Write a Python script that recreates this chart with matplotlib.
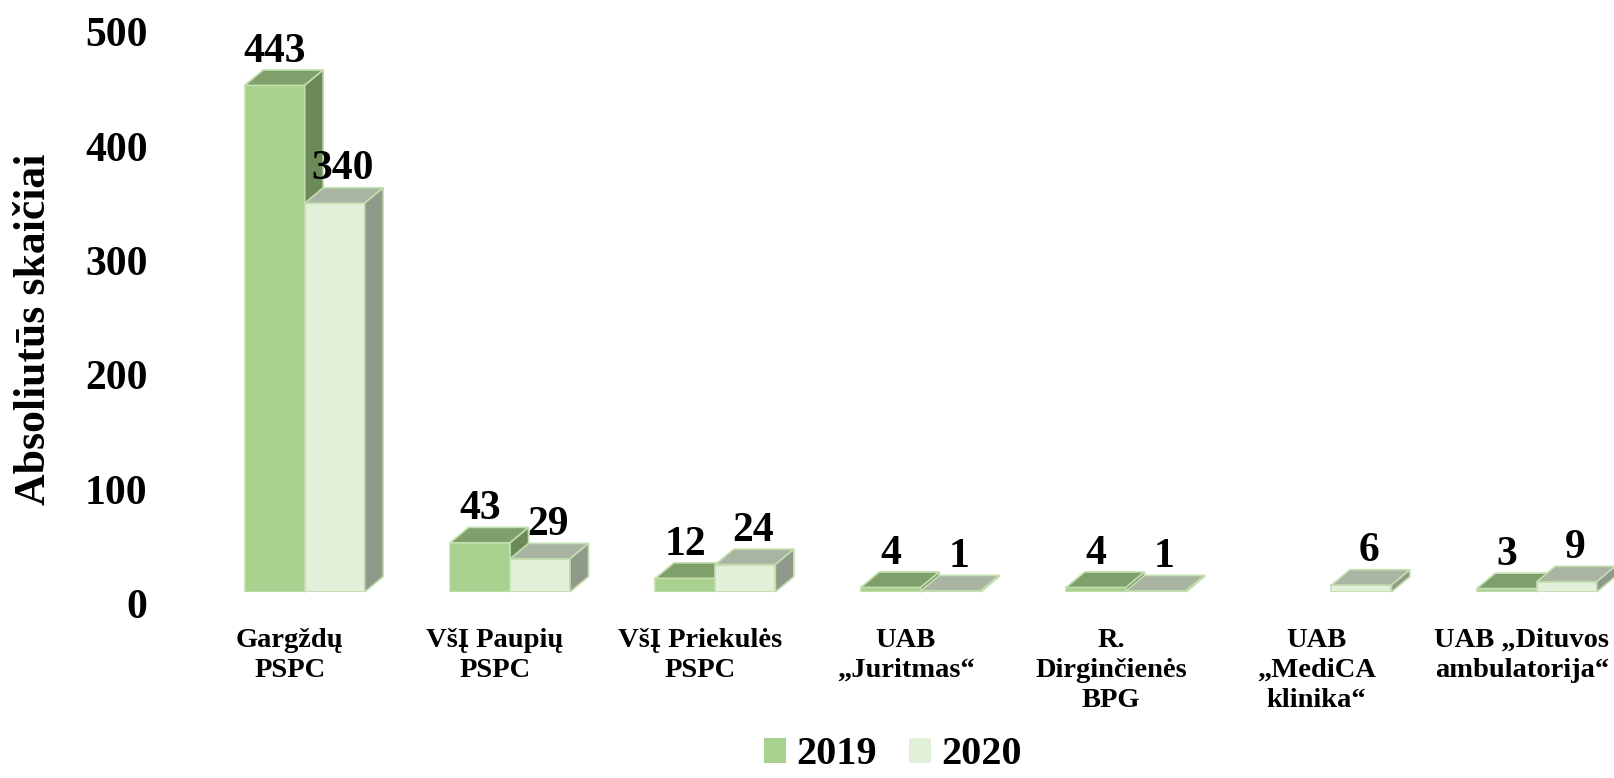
from matplotlib import pyplot as plt
from matplotlib.patches import Polygon, Patch
from matplotlib.transforms import ScaledTranslation

import numpy as np

# ==================================================================================
# DATA
# ==================================================================================
categories  = ['Gargždų\nPSPC', 'VšĮ Paupių\nPSPC', 'VšĮ Priekulės\nPSPC', 'UAB\n„Juritmas“',
               'R.\nDirginčienės\nBPG', 'UAB\n„MediCA\nklinika“', 'UAB „Dituvos\nambulatorija“']
years       = ['2019', '2020']
values_2019 = [443, 43, 12, 4, 4, np.nan, 3]
values_2020 = [340, 29, 24, 1, 1, 6, 9]
y_ticks     = [0, 100, 200, 300, 400, 500]
y_label     = 'Absoliutūs skaičiai'

# ==================================================================================
# STYLE / LAYOUT
# ==================================================================================
FONT      = 'Liberation Serif'
W_PX, H_PX, DPI = 1614, 778, 100
GROUP_PX  = 205.35      # distance between groups
X0_PX     = 304.7       # boundary between the two bars of group 0
ZERO_PX   = 592         # baseline (from top)
UNIT_PX   = 1.1436      # pixels per unit
AX_LEFT, AX_RIGHT = 160, 1600
BAR_W     = 0.292
DEPTH_X, DEPTH_Y = 18.5, 15.4

# front, top, side colors per series
colors = {
    '2019': ('#A9D18E', '#7F9F6B', '#6B8A58'),
    '2020': ('#E2EFD9', '#A9B5A2', '#8F9A8B'),
}
edge = '#C2DEAE'

# ==================================================================================
# PLOT
# ==================================================================================
fig = plt.figure(figsize=(W_PX / DPI, H_PX / DPI), dpi=DPI)
ax  = fig.add_axes([AX_LEFT / W_PX, (H_PX - ZERO_PX) / H_PX,
                    (AX_RIGHT - AX_LEFT) / W_PX, y_ticks[-1] * UNIT_PX / H_PX])
ax.set_xlim((AX_LEFT - X0_PX) / GROUP_PX, (AX_RIGHT - X0_PX) / GROUP_PX)
ax.set_ylim(0, y_ticks[-1])

dx = DEPTH_X / GROUP_PX
dy = DEPTH_Y / UNIT_PX


def draw_bar(x_left, h, cols, z):
    front_c, top_c, side_c = cols
    ax.bar(x_left, h, width=BAR_W, align='edge', color=front_c, edgecolor=edge, linewidth=1.2, zorder=z)
    top = Polygon([(x_left, h), (x_left + BAR_W, h), (x_left + BAR_W + dx, h + dy), (x_left + dx, h + dy)],
                  closed=True, facecolor=top_c, edgecolor=edge, linewidth=1.2, zorder=z, clip_on=False)
    side = Polygon([(x_left + BAR_W, 0), (x_left + BAR_W + dx, dy), (x_left + BAR_W + dx, h + dy), (x_left + BAR_W, h)],
                   closed=True, facecolor=side_c, edgecolor=edge, linewidth=1.2, zorder=z, clip_on=False)
    ax.add_patch(top)
    ax.add_patch(side)


x = np.arange(len(categories))
label_shift = {'2019': 0, '2020': 8}   # px
for i in x:
    for k, (year, vals) in enumerate(zip(years, [values_2019, values_2020])):
        v = vals[i]
        if np.isnan(v):
            continue
        x_left = i - BAR_W + k * BAR_W
        draw_bar(x_left, v, colors[year], z=3 + 2 * i + k)
        ax.annotate(f'{v:.0f}', xy=(x_left + BAR_W / 2, v + dy), xytext=(label_shift[year] * 0.72, 6),
                    textcoords='offset points', ha='center', va='baseline',
                    fontsize=30, fontweight='bold', family=FONT, zorder=20)

# Axes config
for s in ax.spines.values():
    s.set_visible(False)
ax.tick_params(length=0)
ax.set_xticks(x, labels=categories)
ax.set_yticks(y_ticks, labels=[str(t) for t in y_ticks])
ax.tick_params(axis='x', pad=26)
ax.tick_params(axis='y', pad=9)
for lab in ax.get_xticklabels():
    lab.set_fontsize(20.5)
    lab.set_fontweight('bold')
    lab.set_family(FONT)
    lab.set_linespacing(1.25)
    lab.set_transform(lab.get_transform() + ScaledTranslation(-0.15, 0, fig.dpi_scale_trans))
for lab in ax.get_yticklabels():
    lab.set_fontsize(30)
    lab.set_fontweight('bold')
    lab.set_family(FONT)
    lab.set_transform(lab.get_transform() + ScaledTranslation(0, -0.115, fig.dpi_scale_trans))

ax.set_ylabel(y_label, fontsize=31.5, fontweight='bold', family=FONT)
ax.yaxis.set_label_coords(-0.0736, 0.46)

# Legend
handles = [Patch(facecolor=colors[y][0]) for y in years]
fig.legend(handles, years, loc='center', bbox_to_anchor=(893 / W_PX, 1 - 755 / H_PX), ncol=2,
           frameon=False, prop=dict(family=FONT, weight='bold', size=29), borderpad=0,
           handlelength=0.55, handleheight=0.6, handletextpad=0.25, columnspacing=0.8)

fig.savefig('out.png', dpi=DPI)
